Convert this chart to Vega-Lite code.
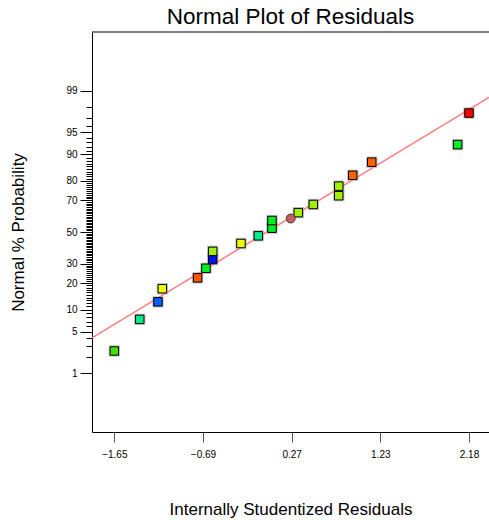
{
  "$schema": "https://vega.github.io/schema/vega-lite/v6.json",
  "width": 397,
  "height": 400,
  "autosize": "none",
  "padding": {"left": 92, "top": 32, "right": 0, "bottom": 88},
  "background": "white",
  "config": {"view": {"stroke": null}, "font": "Liberation Sans"},
  "title": {"text": "Normal Plot of Residuals", "font": "Liberation Sans", "fontSize": 22.5, "fontWeight": "normal", "color": "black", "anchor": "middle", "offset": 3},
  "resolve": {"axis": {"y": "independent"}},
  "datasets": {
    "pts": [
      {"residual": -1.6466, "pct": 2.5, "level": "lime"},
      {"residual": -1.372, "pct": 7.5, "level": "spring"},
      {"residual": -1.175, "pct": 12.5, "level": "azure"},
      {"residual": -1.128, "pct": 17.5, "level": "yellow"},
      {"residual": -0.747, "pct": 22.5, "level": "orangered"},
      {"residual": -0.657, "pct": 27.5, "level": "green"},
      {"residual": -0.584, "pct": 32.5, "level": "blue"},
      {"residual": -0.584, "pct": 37.5, "level": "chartreuse"},
      {"residual": -0.279, "pct": 42.5, "level": "yellow"},
      {"residual": -0.092, "pct": 47.5, "level": "spring"},
      {"residual": 0.056, "pct": 52.5, "level": "green"},
      {"residual": 0.056, "pct": 57.5, "level": "green"},
      {"residual": 0.34, "pct": 62.5, "level": "chartreuse"},
      {"residual": 0.502, "pct": 67.5, "level": "chartreuse"},
      {"residual": 0.777, "pct": 72.5, "level": "chartreuse"},
      {"residual": 0.777, "pct": 77.5, "level": "chartreuse"},
      {"residual": 0.928, "pct": 82.5, "level": "orange"},
      {"residual": 1.133, "pct": 87.5, "level": "orange"},
      {"residual": 2.061, "pct": 92.5, "level": "green"},
      {"residual": 2.1834, "pct": 97.5, "level": "red"}
    ],
    "fit": [
      {"residual": -1.8874, "pct": 4.06},
      {"residual": 2.3994, "pct": 98.67}
    ],
    "center": [
      {"residual": 0.258, "pct": 58.8}
    ]
  },
  "layer": [
    {
      "data": {"name": "pts"},
      "transform": [{"calculate": "quantileNormal(datum.pct/100)", "as": "z"}],
      "mark": {"type": "point", "shape": "square", "filled": true, "color": "#999999", "opacity": 0.55, "size": 130},
      "encoding": {
        "x": {
          "field": "residual", "type": "quantitative",
          "scale": {"domain": [-1.8874, 2.3994], "nice": false, "zero": false},
          "axis": {
            "values": [-1.6466, -0.6891, 0.2684, 1.2259, 2.1834],
            "format": ".2f",
            "grid": false,
            "tickSize": 10, "tickColor": "#555555", "domainColor": "black",
            "labelFont": "Liberation Sans", "labelFontSize": 10, "labelColor": "black", "labelPadding": 7,
            "labelFlush": false, "labelOverlap": false,
            "title": "Internally Studentized Residuals",
            "titleFont": "Liberation Sans", "titleFontSize": 17, "titleFontWeight": "normal", "titleColor": "black", "titlePadding": 42
          }
        },
        "y": {
          "field": "z", "type": "quantitative",
          "scale": {"domain": [-3.295, 3.295], "nice": false, "zero": false},
          "axis": {
            "orient": "left",
            "values": [-2.3263, -1.6449, -1.2816, -0.8416, -0.5244, 0, 0.5244, 0.8416, 1.2816, 1.6449, 2.3263],
            "tickCount": 200,
            "grid": false,
            "tickColor": "black", "domainColor": "black", "tickSize": 12,
            "labelExpr": "'' + round(cumulativeNormal(datum.value)*100)",
            "labelFont": "Liberation Sans", "labelFontSize": 10, "labelColor": "black", "labelPadding": 3,
            "labelFlush": false, "labelOverlap": false, "labelBound": false,
            "title": "Normal % Probability",
            "titleFont": "Liberation Sans", "titleFontSize": 17, "titleFontWeight": "normal", "titleColor": "black", "titlePadding": 38
          }
        }
      }
    },
    {
      "data": {"values": [{}]},
      "mark": {"type": "rule", "color": "black", "strokeWidth": 1},
      "encoding": {"y": {"datum": 3.295, "type": "quantitative", "axis": null}}
    },
    {
      "data": {"name": "fit"},
      "transform": [{"calculate": "quantileNormal(datum.pct/100)", "as": "z"}],
      "mark": {"type": "line", "color": "#FF7F7F", "strokeWidth": 1.5, "clip": true},
      "encoding": {
        "x": {"field": "residual", "type": "quantitative"},
        "y": {
          "field": "z", "type": "quantitative",
          "axis": {
            "orient": "left",
            "values": [-2.0537, -1.8808, -1.7507, -1.5548, -1.4758, -1.4051, -1.3408, -1.2265, -1.175, -1.1264, -1.0803, -1.0364, -0.9945, -0.9542, -0.9154, -0.8779, -0.8064, -0.7722, -0.7388, -0.7063, -0.6745, -0.6433, -0.6128, -0.5828, -0.5534, -0.4959, -0.4677, -0.4399, -0.4125, -0.3853, -0.3585, -0.3319, -0.3055, -0.2793, -0.2533, -0.2275, -0.2019, -0.1764, -0.151, -0.1257, -0.1004, -0.0753, -0.0502, -0.0251, 0.0251, 0.0502, 0.0753, 0.1004, 0.1257, 0.151, 0.1764, 0.2019, 0.2275, 0.2533, 0.2793, 0.3055, 0.3319, 0.3585, 0.3853, 0.4125, 0.4399, 0.4677, 0.4959, 0.5534, 0.5828, 0.6128, 0.6433, 0.6745, 0.7063, 0.7388, 0.7722, 0.8064, 0.8779, 0.9154, 0.9542, 0.9945, 1.0364, 1.0803, 1.1264, 1.175, 1.2265, 1.3408, 1.4051, 1.4758, 1.5548, 1.7507, 1.8808, 2.0537],
            "tickCount": 200,
            "grid": false, "domain": false, "labels": false, "title": null,
            "tickColor": "black", "tickSize": 6
          }
        }
      }
    },
    {
      "data": {"name": "pts"},
      "transform": [{"calculate": "quantileNormal(datum.pct/100)", "as": "z"}],
      "mark": {"type": "point", "shape": "square", "filled": true, "stroke": "black", "strokeWidth": 1, "size": 72, "opacity": 1},
      "encoding": {
        "x": {"field": "residual", "type": "quantitative"},
        "y": {"field": "z", "type": "quantitative", "axis": null},
        "fill": {
          "field": "level", "type": "nominal", "legend": null,
          "scale": {
            "domain": ["lime", "spring", "azure", "yellow", "orangered", "green", "blue", "chartreuse", "orange", "red"],
            "range": ["#44DD00", "#00EE88", "#0060FF", "#EEFF00", "#FF5500", "#00EE22", "#0010F0", "#A0F000", "#FF6000", "#FF0000"]
          }
        }
      }
    },
    {
      "data": {"name": "center"},
      "transform": [{"calculate": "quantileNormal(datum.pct/100)", "as": "z"}],
      "mark": {"type": "point", "shape": "circle", "filled": true, "fill": "#C06060", "stroke": "#553333", "strokeWidth": 1, "size": 80, "opacity": 1},
      "encoding": {
        "x": {"field": "residual", "type": "quantitative"},
        "y": {"field": "z", "type": "quantitative", "axis": null}
      }
    }
  ]
}
